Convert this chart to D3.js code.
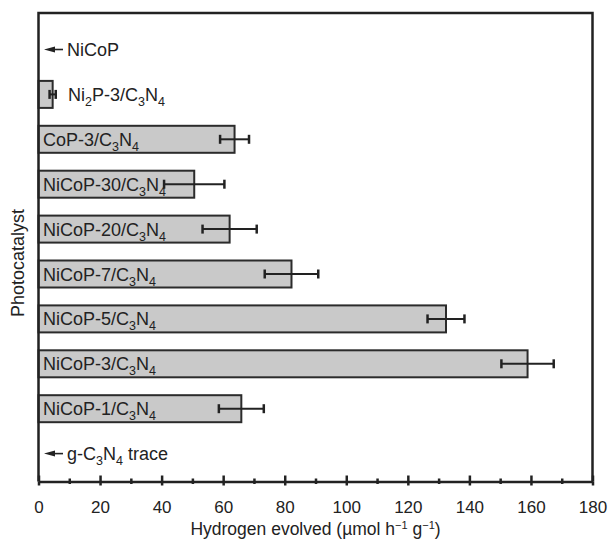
<!DOCTYPE html>
<html>
<head>
<meta charset="utf-8">
<script src="https://cdn.jsdelivr.net/npm/d3@7"></script>
<style>
  body { margin: 0; background: #fff; }
  text { font-family: "Liberation Sans", Arial, sans-serif; fill: #222; }
  .axis path, .axis line { stroke: #222; }
</style>
</head>
<body>
<svg id="chart" width="608" height="544"></svg>
<script>
// "_" marks the next character as subscript
var categories = ["NiCoP", "Ni_2P-3/C_3N_4", "CoP-3/C_3N_4", "NiCoP-30/C_3N_4",
  "NiCoP-20/C_3N_4", "NiCoP-7/C_3N_4", "NiCoP-5/C_3N_4", "NiCoP-3/C_3N_4",
  "NiCoP-1/C_3N_4", "g-C_3N_4 trace"];
var values = [0, 4.6, 63.7, 50.6, 62.1, 82.2, 132.4, 158.9, 65.9, 0];
var errors = [0, 1.0, 4.7, 9.8, 8.8, 8.7, 6.0, 8.5, 7.3, 0];
var majorTicks = [0, 20, 40, 60, 80, 100, 120, 140, 160, 180];
var minorTicks = [10, 30, 50, 70, 90, 110, 130, 150, 170];

var data = categories.map(function(c, i) {
  return {name: c, value: values[i], err: errors[i]};
});

var svg = d3.select("#chart");
var plotLeft = 38.5, plotRight = 592.5, plotTop = 13, plotBottom = 481.5;

var x = d3.scaleLinear().domain([0, 180]).range([plotLeft, plotRight]);
var y = d3.scalePoint().domain(categories).range([49.5, 453.6]);
var barH = 27;

// bars
svg.selectAll("rect.bar")
  .data(data.filter(function(d) { return d.value > 0; }))
  .enter().append("rect")
  .attr("class", "bar")
  .attr("x", x(0))
  .attr("y", function(d) { return y(d.name) - barH / 2; })
  .attr("width", function(d) { return x(d.value) - x(0); })
  .attr("height", barH)
  .style("fill", "#c9c9c9")
  .style("stroke", "#2b2b2b")
  .style("stroke-width", 2);

// labels (with subscripts)
function addLabel(sel, str) {
  var parts = str.split("_");
  sel.append("tspan").text(parts[0]);
  for (var i = 1; i < parts.length; i++) {
    sel.append("tspan").attr("dy", 5).style("font-size", "12.5px").text(parts[i][0]);
    sel.append("tspan").attr("dy", -5).text(parts[i].slice(1));
  }
}

data.forEach(function(d) {
  var inside = x(d.value) - x(0) > 100;
  var tx = inside ? 43 : (d.value > 0 ? 68 : 67);
  var t = svg.append("text")
    .attr("x", tx)
    .attr("y", y(d.name) + 6.5)
    .style("font-size", "18px");
  addLabel(t, d.name);

  if (d.value === 0) {
    var cy = y(d.name);
    svg.append("line")
      .attr("x1", 50).attr("x2", 63).attr("y1", cy).attr("y2", cy)
      .style("stroke", "#222").style("stroke-width", 1.6);
    svg.append("path")
      .attr("d", "M44," + cy + "L55," + (cy - 3) + "L55," + (cy + 3) + "Z")
      .style("fill", "#222");
  }
});

// error bars
var eb = svg.selectAll("g.err")
  .data(data.filter(function(d) { return d.err > 0; }))
  .enter().append("g").attr("class", "err")
  .style("stroke", "#222").style("stroke-width", 2);
eb.append("line")
  .attr("x1", function(d) { return x(d.value - d.err); })
  .attr("x2", function(d) { return x(d.value + d.err); })
  .attr("y1", function(d) { return y(d.name); })
  .attr("y2", function(d) { return y(d.name); });
[-1, 1].forEach(function(s) {
  eb.append("line")
    .style("stroke-width", 2.5)
    .attr("x1", function(d) { return x(d.value + s * d.err); })
    .attr("x2", function(d) { return x(d.value + s * d.err); })
    .attr("y1", function(d) { return y(d.name) - 4.5; })
    .attr("y2", function(d) { return y(d.name) + 4.5; });
});

// frame
svg.append("path")
  .attr("d", "M" + plotLeft + "," + plotBottom + "V" + plotTop + "H" + plotRight + "V" + plotBottom)
  .style("fill", "none").style("stroke", "#222").style("stroke-width", 2.5);

// bottom axis: ticks cross the axis line
var gx = svg.append("g").attr("class", "axis")
  .attr("transform", "translate(0," + plotBottom + ")");
gx.append("g")
  .call(d3.axisBottom(x).tickValues(majorTicks).tickSize(4).tickSizeOuter(0).tickPadding(15))
  .call(function(g) {
    g.select(".domain").style("stroke-width", 2.5);
    g.selectAll("line").style("stroke-width", 2.5);
    g.selectAll("text").style("font-size", "17px").style("font-family", "Liberation Sans, Arial, sans-serif").attr("fill", "#222");
  });
gx.append("g")
  .call(d3.axisTop(x).tickValues(majorTicks).tickSize(6).tickFormat(""))
  .call(function(g) {
    g.select(".domain").remove();
    g.selectAll("line").style("stroke-width", 2.5);
  });
gx.append("g")
  .call(d3.axisBottom(x).tickValues(minorTicks).tickSize(2.5).tickFormat(""))
  .call(function(g) {
    g.select(".domain").remove();
    g.selectAll("line").style("stroke-width", 2.5);
  });
gx.append("g")
  .call(d3.axisTop(x).tickValues(minorTicks).tickSize(3).tickFormat(""))
  .call(function(g) {
    g.select(".domain").remove();
    g.selectAll("line").style("stroke-width", 2.5);
  });

// axis titles
var xt = svg.append("text")
  .attr("x", 315.5).attr("y", 535)
  .attr("text-anchor", "middle")
  .style("font-size", "17.5px");
xt.append("tspan").text("Hydrogen evolved (\u00b5mol h");
xt.append("tspan").attr("dy", -6).style("font-size", "11px").text("\u22121");
xt.append("tspan").attr("dy", 6).text(" g");
xt.append("tspan").attr("dy", -6).style("font-size", "11px").text("\u22121");
xt.append("tspan").attr("dy", 6).text(")");

svg.append("text")
  .attr("transform", "translate(24,263) rotate(-90)")
  .attr("text-anchor", "middle")
  .style("font-size", "18px")
  .text("Photocatalyst");
</script>
</body>
</html>
